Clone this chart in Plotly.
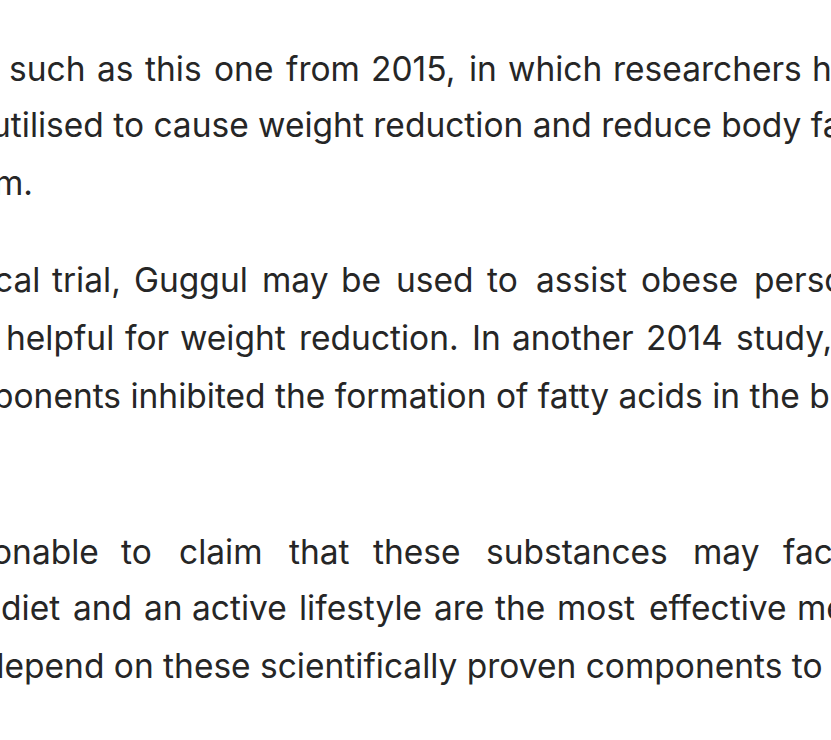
import plotly.graph_objects as go

# Text lines visible in the reference (cropped at both sides)
lines = [
    "such as this one from 2015, in which researchers h",
    "utilised to cause weight reduction and reduce body fa",
    "m.",
    "cal trial, Guggul may be used to assist obese perso",
    "helpful for weight reduction. In another 2014 study,",
    "ponents inhibited the formation of fatty acids in the b",
    "onable to claim that these substances may fac",
    "diet and an active lifestyle are the most effective me",
    "depend on these scientifically proven components to",
]
line_y = [73, 129, 187, 284, 342, 400, 556, 612, 670]
# start x of every word of a justified line (one value = line set as a whole)
word_x = [
    [9, 97, 145, 214, 286, 371, 469, 508, 613, 812],
    [-9],
    [-6],
    [-6, 52, 134, 262, 341, 396, 487, 536, 641, 754],
    [6, 125, 180, 299, 472, 512, 646, 736],
    [-7],
    [-8, 121, 179, 289, 373, 486, 693, 783],
    [1, 73, 144, 192, 299, 434, 495, 557, 649, 797],
    [-16],
]

xs, ys, ts = [], [], []
for t, y, wx in zip(lines, line_y, word_x):
    words = [t] if len(wx) == 1 else t.split(" ")
    for w, x in zip(words, wx):
        xs.append(x)
        ys.append(y)
        ts.append(w)

fig = go.Figure(go.Scatter(
    x=xs, y=ys, text=ts, mode="text", textposition="middle right",
    cliponaxis=True, hoverinfo="skip", marker=dict(size=0),
    textfont=dict(family="Inter", size=33.5, color="#262626"),
))

fig.update_xaxes(range=[0, 831], visible=False)
fig.update_yaxes(range=[740, 0], visible=False)
fig.update_layout(width=831, height=740, margin=dict(l=0, r=0, t=0, b=0),
                  paper_bgcolor="white", plot_bgcolor="white", showlegend=False)
fig.write_html("out.html", config={"displayModeBar": False},
               post_script="document.body.style.margin='0';")
